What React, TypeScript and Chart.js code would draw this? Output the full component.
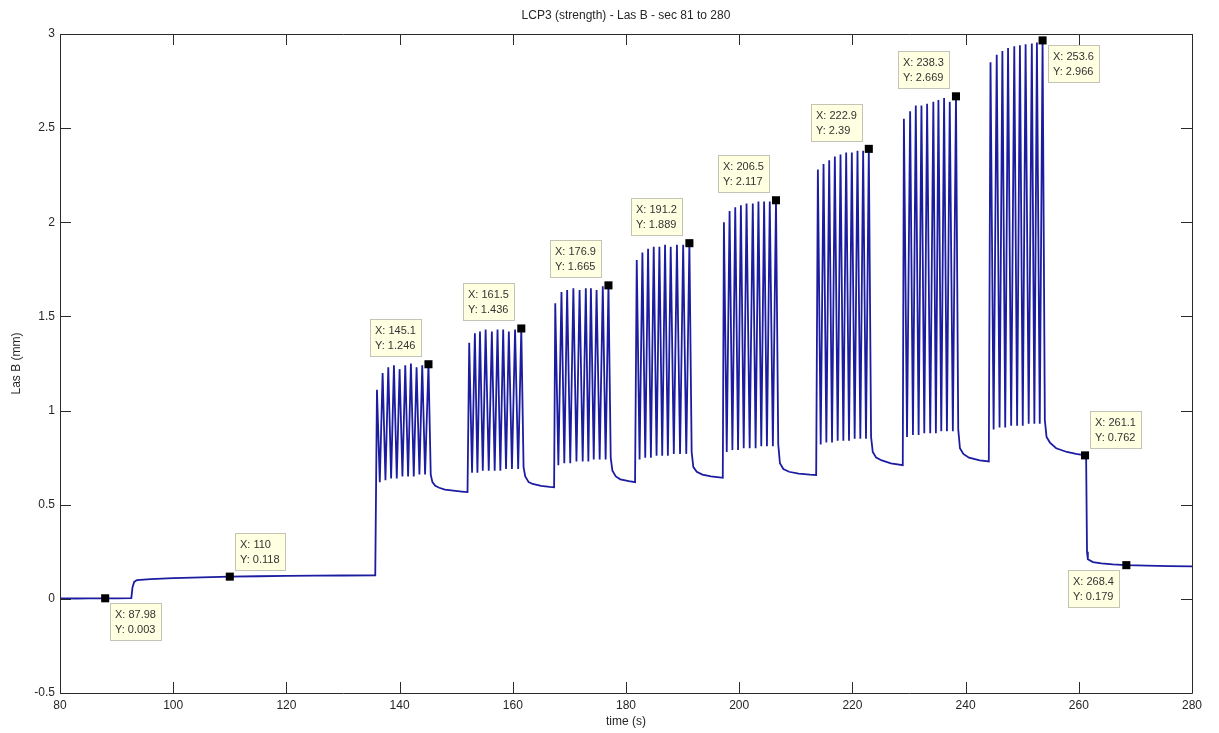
import React, { useEffect, useRef } from "react";
import { Chart, registerables } from "chart.js";

Chart.register(...registerables);

const titleText = "LCP3 (strength) - Las B - sec 81 to 280";
const xTitle = "time (s)";
const yTitle = "Las B (mm)";
const xTicks = [80, 100, 120, 140, 160, 180, 200, 220, 240, 260, 280];
const yTicks = [-0.5, 0, 0.5, 1, 1.5, 2, 2.5, 3];
const xTickLabels = ["80", "100", "120", "140", "160", "180", "200", "220", "240", "260", "280"];
const yTickLabels = ["-0.5", "0", "0.5", "1", "1.5", "2", "2.5", "3"];

type P = [number, number];

const baseline: P[] = [
  [80, 0.003], [83, 0.002], [85, 0.003], [87.98, 0.003], [90, 0.003], [92.6, 0.004],
  [92.8, 0.06], [93.1, 0.09], [93.6, 0.1], [96, 0.105], [100, 0.11], [105, 0.114],
  [110, 0.118], [115, 0.12], [120, 0.122], [125, 0.123], [130, 0.124], [135.7, 0.125],
];

const block1: P[] = [
  [136.0, 1.11], [136.5, 0.62], [137.0, 1.2], [137.5, 0.63], [138.0, 1.23], [138.5, 0.64],
  [139.0, 1.24], [139.5, 0.64], [140.0, 1.22], [140.5, 0.65], [141.0, 1.24], [141.5, 0.65],
  [142.0, 1.25], [142.5, 0.65], [143.0, 1.23], [143.5, 0.66], [144.0, 1.24], [144.5, 0.66],
  [145.1, 1.246], [145.5, 0.66],
];
const decay1: P[] = [[145.8, 0.62], [146.3, 0.6], [147.0, 0.59], [148.0, 0.58], [149.5, 0.575], [151.0, 0.57], [152.0, 0.567]];

const block2: P[] = [
  [152.3, 1.36], [152.8, 0.67], [153.3, 1.41], [153.75, 0.67], [154.2, 1.42], [154.7, 0.68],
  [155.2, 1.43], [155.75, 0.68], [156.3, 1.42], [156.8, 0.68], [157.3, 1.43], [157.8, 0.68],
  [158.3, 1.43], [158.8, 0.69], [159.3, 1.42], [159.85, 0.69], [160.4, 1.43], [160.95, 0.69],
  [161.5, 1.436], [161.9, 0.7],
];
const decay2: P[] = [[162.2, 0.65], [162.8, 0.62], [163.5, 0.61], [165.0, 0.6], [166.5, 0.595], [167.3, 0.593]];

const block3: P[] = [
  [167.5, 1.57], [168.05, 0.71], [168.6, 1.63], [169.1, 0.72], [169.6, 1.64], [170.15, 0.72],
  [170.7, 1.65], [171.25, 0.73], [171.8, 1.64], [172.35, 0.73], [172.9, 1.65], [173.35, 0.73],
  [173.8, 1.65], [174.3, 0.74], [174.8, 1.64], [175.35, 0.74], [175.9, 1.66], [176.4, 0.74],
  [176.9, 1.665], [177.3, 0.75],
];
const decay3: P[] = [[177.6, 0.68], [178.2, 0.65], [179.0, 0.635], [180.5, 0.625], [181.6, 0.62]];

const block4: P[] = [
  [181.9, 1.8], [182.4, 0.74], [182.9, 1.84], [183.4, 0.75], [183.9, 1.86], [184.4, 0.75],
  [184.9, 1.87], [185.4, 0.76], [185.9, 1.87], [186.4, 0.76], [186.9, 1.88], [187.4, 0.76],
  [187.9, 1.87], [188.45, 0.77], [189.0, 1.88], [189.55, 0.77], [190.1, 1.88], [190.65, 0.77],
  [191.2, 1.889], [191.6, 0.78],
];
const decay4: P[] = [[191.9, 0.7], [192.5, 0.675], [193.5, 0.66], [195.0, 0.65], [196.5, 0.645], [197.1, 0.643]];

const block5: P[] = [
  [197.3, 2.0], [197.8, 0.78], [198.3, 2.06], [198.8, 0.79], [199.3, 2.08], [199.8, 0.79],
  [200.3, 2.09], [200.8, 0.8], [201.3, 2.1], [201.85, 0.8], [202.4, 2.1], [202.9, 0.8],
  [203.4, 2.11], [203.9, 0.81], [204.4, 2.11], [204.9, 0.81], [205.4, 2.11], [205.95, 0.81],
  [206.5, 2.117], [206.9, 0.82],
];
const decay5: P[] = [[207.2, 0.72], [207.8, 0.69], [208.8, 0.675], [210.5, 0.665], [212.5, 0.66], [213.6, 0.658]];

const block6: P[] = [
  [213.9, 2.28], [214.4, 0.82], [214.9, 2.31], [215.4, 0.83], [215.9, 2.33], [216.4, 0.83],
  [216.9, 2.35], [217.4, 0.84], [217.9, 2.36], [218.4, 0.84], [218.9, 2.37], [219.4, 0.84],
  [219.9, 2.37], [220.4, 0.85], [220.9, 2.38], [221.4, 0.85], [221.9, 2.38], [222.4, 0.85],
  [222.9, 2.39], [223.3, 0.86],
];
const decay6: P[] = [[223.6, 0.78], [224.2, 0.75], [225.2, 0.735], [226.8, 0.72], [228.9, 0.71]];

const block7: P[] = [
  [229.1, 2.55], [229.65, 0.86], [230.2, 2.59], [230.7, 0.87], [231.2, 2.62], [231.7, 0.87],
  [232.2, 2.62], [232.7, 0.88], [233.2, 2.63], [233.75, 0.88], [234.3, 2.64], [234.75, 0.88],
  [235.2, 2.65], [235.7, 0.89], [236.2, 2.66], [236.7, 0.89], [237.2, 2.64], [237.75, 0.89],
  [238.3, 2.669], [238.7, 0.9],
];
const decay7: P[] = [[239.0, 0.8], [239.6, 0.77], [240.6, 0.75], [242.5, 0.735], [244.1, 0.73]];

const block8: P[] = [
  [244.4, 2.85], [244.95, 0.9], [245.5, 2.89], [246.0, 0.91], [246.5, 2.91], [247.0, 0.91],
  [247.5, 2.925], [248.05, 0.92], [248.6, 2.935], [249.1, 0.92], [249.6, 2.94], [250.1, 0.92],
  [250.6, 2.945], [251.15, 0.93], [251.7, 2.95], [252.15, 0.93], [252.6, 2.955], [253.1, 0.93],
  [253.6, 2.966], [254.0, 0.95],
];
const decay8: P[] = [
  [254.3, 0.86], [254.9, 0.83], [256.0, 0.8], [257.9, 0.78], [259.5, 0.77], [261.1, 0.762],
  [261.3, 0.74], [261.45, 0.25], [261.6, 0.21], [262.5, 0.195], [264.0, 0.188], [266.0, 0.183],
  [268.4, 0.179], [272.0, 0.176], [276.0, 0.174], [280.0, 0.172],
];

const segments: P[][] = [
  baseline, block1, decay1, block2, decay2, block3, decay3, block4, decay4,
  block5, decay5, block6, decay6, block7, decay7, block8, decay8,
];

const tipX = [87.98, 110, 145.1, 161.5, 176.9, 191.2, 206.5, 222.9, 238.3, 253.6, 261.1, 268.4];
const tipY = [0.003, 0.118, 1.246, 1.436, 1.665, 1.889, 2.117, 2.39, 2.669, 2.966, 0.762, 0.179];
const tipXText = ["87.98", "110", "145.1", "161.5", "176.9", "191.2", "206.5", "222.9", "238.3", "253.6", "261.1", "268.4"];
const tipYText = ["0.003", "0.118", "1.246", "1.436", "1.665", "1.889", "2.117", "2.39", "2.669", "2.966", "0.762", "0.179"];
const tipPlace = ["br", "tr", "tl", "tl", "tl", "tl", "tl", "tl", "tl", "br", "tr", "bl"];

const FONT = "'Liberation Sans', Arial, sans-serif";
const TEXT = "#262626";

const framePlugin = {
  id: "frame",
  afterDraw(chart: any) {
    const { ctx, chartArea } = chart;
    const xs = chart.scales.x;
    const ys = chart.scales.y;
    const L = Math.round(chartArea.left);
    const R = Math.round(chartArea.right);
    const T = Math.round(chartArea.top);
    const B = Math.round(chartArea.bottom);
    ctx.save();
    ctx.strokeStyle = "#2a2a2a";
    ctx.lineWidth = 1;
    ctx.beginPath();
    ctx.rect(L + 0.5, T + 0.5, R - L, B - T);
    ctx.stroke();
    const tl = 11;
    ctx.beginPath();
    xTicks.forEach((v) => {
      const px = Math.round(xs.getPixelForValue(v)) + 0.5;
      ctx.moveTo(px, B);
      ctx.lineTo(px, B - tl);
      ctx.moveTo(px, T);
      ctx.lineTo(px, T + tl);
    });
    yTicks.forEach((v) => {
      const py = Math.round(ys.getPixelForValue(v)) + 0.5;
      ctx.moveTo(L, py);
      ctx.lineTo(L + tl, py);
      ctx.moveTo(R, py);
      ctx.lineTo(R - tl, py);
    });
    ctx.stroke();

    ctx.fillStyle = TEXT;
    ctx.font = `12px ${FONT}`;
    ctx.textAlign = "center";
    ctx.textBaseline = "middle";
    ctx.fillText(titleText, (L + R) / 2, 16);
    ctx.fillText(xTitle, (L + R) / 2, 722);
    ctx.save();
    ctx.translate(17, (T + B) / 2);
    ctx.rotate(-Math.PI / 2);
    ctx.fillText(yTitle, 0, 0);
    ctx.restore();

    ctx.font = `11px ${FONT}`;
    tipX.forEach((vx, i) => {
      const px = xs.getPixelForValue(vx);
      const py = ys.getPixelForValue(tipY[i]);
      const l1 = "X: " + tipXText[i];
      const l2 = "Y: " + tipYText[i];
      const w = Math.round(Math.max(ctx.measureText(l1).width, ctx.measureText(l2).width) + 11);
      const h = 38;
      const place = tipPlace[i];
      let bx = 0;
      let by = 0;
      if (place === "br") { bx = px + 5; by = py + 5; }
      else if (place === "tr") { bx = px + 5; by = py - 6 - h; }
      else if (place === "tl") { bx = px - 6 - w; by = py - 7 - h; }
      else { bx = px - 6 - w; by = py + 5; }
      bx = Math.round(bx);
      by = Math.round(by);
      ctx.fillStyle = "#ffffe1";
      ctx.fillRect(bx, by, w, h);
      ctx.strokeStyle = "#c4c4b4";
      ctx.strokeRect(bx + 0.5, by + 0.5, w - 1, h - 1);
      ctx.fillStyle = "#333333";
      ctx.textAlign = "left";
      ctx.textBaseline = "middle";
      ctx.fillText(l1, bx + 5, by + 12);
      ctx.fillText(l2, bx + 5, by + 27);
    });
    ctx.restore();
  },
};

export default function App() {
  const ref = useRef<HTMLCanvasElement | null>(null);
  useEffect(() => {
    document.body.style.margin = "0";
    const canvas = ref.current;
    if (!canvas) return;
    const trace = segments.flat().map(([x, y]) => ({ x, y }));
    const tips = tipX.map((x, i) => ({ x, y: tipY[i] }));
    const chart = new Chart(canvas, {
      type: "line",
      data: {
        datasets: [
          {
            type: "scatter",
            data: tips,
            pointStyle: "rect",
            pointRadius: 5.7,
            pointBackgroundColor: "#000000",
            pointBorderColor: "#000000",
            pointBorderWidth: 0,
            showLine: false,
            order: 0,
          } as any,
          {
            data: trace,
            borderColor: "#1c1ca0",
            borderWidth: 1.8,
            pointRadius: 0,
            tension: 0,
            fill: false,
            order: 1,
          },
        ],
      },
      options: {
        responsive: false,
        animation: false,
        devicePixelRatio: 1,
        layout: { padding: { top: 34, right: 27, left: 0, bottom: 0 } },
        plugins: { legend: { display: false }, tooltip: { enabled: false }, title: { display: false } },
        events: [],
        scales: {
          x: {
            type: "linear",
            min: 80,
            max: 280,
            grid: { display: false, drawTicks: false },
            border: { display: false },
            afterBuildTicks: (s: any) => { s.ticks = xTicks.map((v) => ({ value: v })); },
            afterFit: (s: any) => { s.height = 40; },
            ticks: {
              padding: 5,
              color: TEXT,
              font: { size: 12, family: FONT },
              maxRotation: 0,
              callback: (v: any) => xTickLabels[xTicks.indexOf(Number(v))] ?? "",
            },
          },
          y: {
            type: "linear",
            min: -0.5,
            max: 3,
            grid: { display: false, drawTicks: false },
            border: { display: false },
            afterBuildTicks: (s: any) => { s.ticks = yTicks.map((v) => ({ value: v })); },
            afterFit: (s: any) => { s.width = 60; },
            ticks: {
              padding: 5,
              color: TEXT,
              font: { size: 12, family: FONT },
              callback: (v: any) => yTickLabels[yTicks.indexOf(Number(v))] ?? "",
            },
          },
        },
      },
      plugins: [framePlugin],
    });
    return () => chart.destroy();
  }, []);
  return (
    <div style={{ width: 1219, height: 733, background: "#fff" }}>
      <canvas ref={ref} width={1219} height={733} style={{ display: "block" }} />
    </div>
  );
}
